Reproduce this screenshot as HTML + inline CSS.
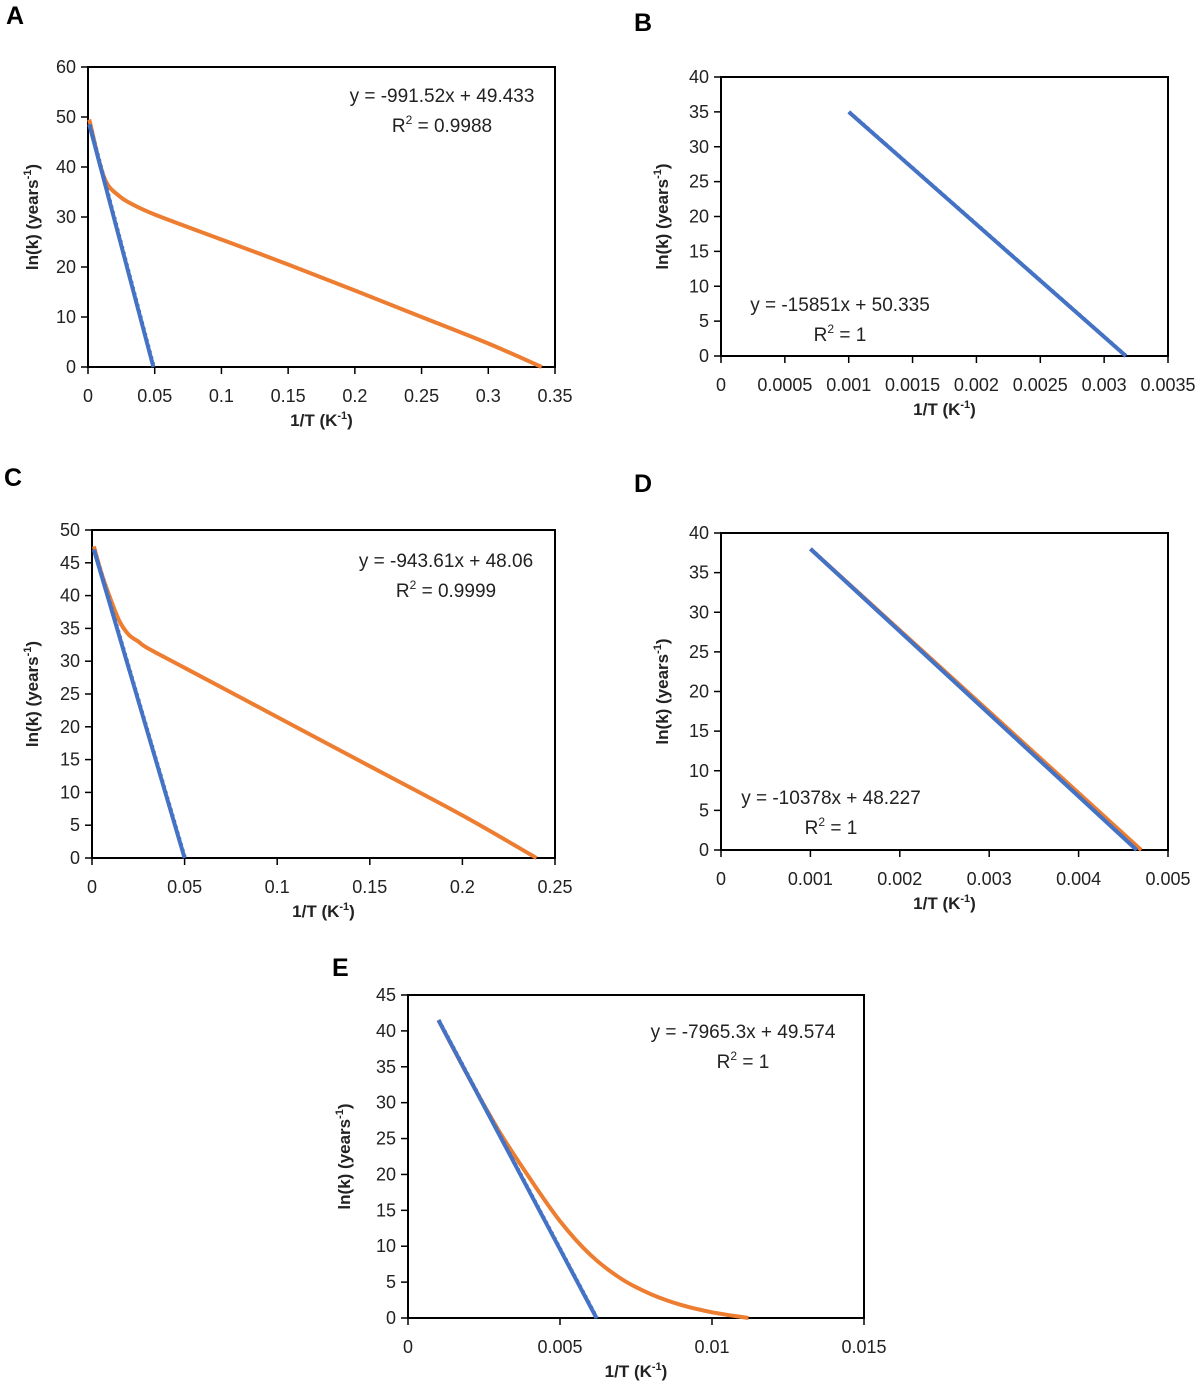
<!DOCTYPE html>
<html><head><meta charset="utf-8"><style>
html,body{margin:0;padding:0;background:#fff;}
svg{display:block;font-family:"Liberation Sans",sans-serif;}
</style></head><body>
<svg id="fig" width="1200" height="1383" viewBox="0 0 1200 1383"></svg>
<script>
// Panel A data
const aOrangeX=[0.001,0.004,0.008,0.012,0.016,0.022,0.03,0.05,0.1,0.15,0.2,0.25,0.3,0.34];
const aOrangeY=[49.5,46,41.5,38,36,34.5,33,30.5,25.5,20.5,15.3,10,4.7,0];
const aBlueX=[0.001,0.049];
const aBlueY=[48.5,0];
// Panel B data
const bBlueX=[0.001,0.00317];
const bBlueY=[35,0];
// Panel C data
const cOrangeX=[0.001,0.005,0.01,0.015,0.02,0.025,0.03,0.05,0.1,0.15,0.2,0.24];
const cOrangeY=[47.5,43.5,39.5,36,34,33,32,29,21.5,14,6.5,0];
const cBlueX=[0.001,0.05];
const cBlueY=[47,0];
// Panel D data
const dOrangeX=[0.001,0.0047];
const dOrangeY=[38,0];
const dBlueX=[0.001,0.00465];
const dBlueY=[38,0];
// Panel E data
const eOrangeX=[0.001,0.002,0.003,0.004,0.005,0.006,0.007,0.008,0.009,0.01,0.0112];
const eOrangeY=[41.5,33.5,26,19.5,13.5,8.8,5.5,3.3,1.8,0.8,0];
const eBlueX=[0.001,0.0062];
const eBlueY=[41.5,0];
// tick labels
const aXTicks=["0","0.05","0.1","0.15","0.2","0.25","0.3","0.35"];
const aYTicks=["0","10","20","30","40","50","60"];
const bXTicks=["0","0.0005","0.001","0.0015","0.002","0.0025","0.003","0.0035"];
const bYTicks=["0","5","10","15","20","25","30","35","40"];
const cXTicks=["0","0.05","0.1","0.15","0.2","0.25"];
const cYTicks=["0","5","10","15","20","25","30","35","40","45","50"];
const dXTicks=["0","0.001","0.002","0.003","0.004","0.005"];
const dYTicks=["0","5","10","15","20","25","30","35","40"];
const eXTicks=["0","0.005","0.01","0.015"];
const eYTicks=["0","5","10","15","20","25","30","35","40","45"];

const NS="http://www.w3.org/2000/svg";
const svg=document.getElementById('fig');
function mk(tag,attrs,parent){const e=document.createElementNS(NS,tag);for(const k in attrs)e.setAttribute(k,attrs[k]);(parent||svg).appendChild(e);return e;}

function smooth(pts){
  if(pts.length<3)return pts.map((p,i)=>(i?'L':'M')+p[0].toFixed(1)+' '+p[1].toFixed(1)).join(' ');
  let d='M'+pts[0][0].toFixed(1)+' '+pts[0][1].toFixed(1);
  for(let i=0;i<pts.length-1;i++){
    const p0=pts[i-1]||pts[i],p1=pts[i],p2=pts[i+1],p3=pts[i+2]||p2;
    const c1=[p1[0]+(p2[0]-p0[0])/6,p1[1]+(p2[1]-p0[1])/6];
    const c2=[p2[0]-(p3[0]-p1[0])/6,p2[1]-(p3[1]-p1[1])/6];
    d+=` C${c1[0].toFixed(1)} ${c1[1].toFixed(1)} ${c2[0].toFixed(1)} ${c2[1].toFixed(1)} ${p2[0].toFixed(1)} ${p2[1].toFixed(1)}`;
  }
  return d;
}

function panel(cfg){
  const g=mk('g',{});
  
  
  const xmax=parseFloat(cfg.xt[cfg.xt.length-1]), ymax=parseFloat(cfg.yt[cfg.yt.length-1]);
  const sx=v=>cfg.l+(v/xmax)*(cfg.r-cfg.l);
  const sy=v=>cfg.b-(v/ymax)*(cfg.b-cfg.t);
  const lt=mk('text',{x:cfg.lx,y:cfg.ly,'font-size':25,'font-weight':'bold',fill:'#000'},g);
  lt.textContent=cfg.id.toUpperCase();
  
  
  const box=mk('rect',{x:cfg.l,y:cfg.t,width:cfg.r-cfg.l,height:cfg.b-cfg.t,fill:'none',stroke:'#000','stroke-width':2},g);
  
  
  cfg.xt.forEach(t=>{const x=sx(parseFloat(t));
    mk('line',{x1:x,x2:x,y1:cfg.b,y2:cfg.b+7,stroke:'#000','stroke-width':1.5},g);
    const tx=mk('text',{x:x,y:cfg.b+35,'font-size':18,'text-anchor':'middle',fill:'#222'},g);tx.textContent=t;
    
    });
  cfg.yt.forEach(t=>{const y=sy(parseFloat(t));
    mk('line',{x1:cfg.l-7,x2:cfg.l,y1:y,y2:y,stroke:'#000','stroke-width':1.5},g);
    const tx=mk('text',{x:cfg.l-12,y:y+6,'font-size':18,'text-anchor':'end',fill:'#222'},g);tx.textContent=t;
    
    });
  const xtl=mk('text',{x:(cfg.l+cfg.r)/2,y:cfg.b+59,'font-size':17,'font-weight':'bold','text-anchor':'middle',fill:'#222'},g);
  xtl.innerHTML='1/T (K<tspan font-size="11" dy="-7">-1</tspan><tspan dy="7">)</tspan>';
  
  
  const ytl=mk('text',{transform:`translate(${cfg.ytx},${(cfg.t+cfg.b)/2}) rotate(-90)`,'font-size':17,'font-weight':'bold','text-anchor':'middle',fill:'#222'},g);
  ytl.innerHTML='ln(k) (years<tspan font-size="11" dy="-7">-1</tspan><tspan dy="7">)</tspan>';
  
  
  const path=(xs,ys)=>smooth(xs.map((x,i)=>[sx(x),sy(ys[i])]));
  if(cfg.ox){const p=mk('path',{d:path(cfg.ox,cfg.oy),fill:'none',stroke:'#ED7D31','stroke-width':4,'stroke-linejoin':'round'},g);
    
    }
  const bl=mk('path',{d:path(cfg.bx,cfg.by),fill:'none',stroke:'#4472C4','stroke-width':4},g);
  
  
  const tr=mk('path',{d:path(cfg.bx.map(v=>v+xmax*0.002),cfg.by),fill:'none',stroke:'#4472C4','stroke-width':3,'stroke-dasharray':'2 4'},g);
  
  
  const e1=mk('text',{x:cfg.ex,y:cfg.ey,'font-size':19,'text-anchor':'middle',fill:'#222'},g);
  e1.textContent=cfg.eq;
  
  
  const e2=mk('text',{x:cfg.ex,y:cfg.ey+30,'font-size':19,'text-anchor':'middle',fill:'#222'},g);
  e2.innerHTML='R<tspan font-size="12" dy="-8">2</tspan><tspan dy="8"> = '+cfg.r2+'</tspan>';
  
  
}
panel({id:'a',l:88,r:555,t:67,b:367,lx:6,ly:24,ytx:38,xt:aXTicks,yt:aYTicks,ox:aOrangeX,oy:aOrangeY,bx:aBlueX,by:aBlueY,eq:'y = -991.52x + 49.433',r2:'0.9988',ex:442,ey:102});
panel({id:'b',l:721,r:1168,t:77,b:356,lx:634,ly:31,ytx:668,xt:bXTicks,yt:bYTicks,bx:bBlueX,by:bBlueY,eq:'y = -15851x + 50.335',r2:'1',ex:840,ey:311});
panel({id:'c',l:92,r:555,t:530,b:858,lx:4,ly:486,ytx:38,xt:cXTicks,yt:cYTicks,ox:cOrangeX,oy:cOrangeY,bx:cBlueX,by:cBlueY,eq:'y = -943.61x + 48.06',r2:'0.9999',ex:446,ey:567});
panel({id:'d',l:721,r:1168,t:533,b:850,lx:634,ly:492,ytx:668,xt:dXTicks,yt:dYTicks,ox:dOrangeX,oy:dOrangeY,bx:dBlueX,by:dBlueY,eq:'y = -10378x + 48.227',r2:'1',ex:831,ey:804});
panel({id:'e',l:408,r:864,t:995,b:1318,lx:332,ly:976,ytx:350,xt:eXTicks,yt:eYTicks,ox:eOrangeX,oy:eOrangeY,bx:eBlueX,by:eBlueY,eq:'y = -7965.3x + 49.574',r2:'1',ex:743,ey:1038});
</script>
</body></html>
